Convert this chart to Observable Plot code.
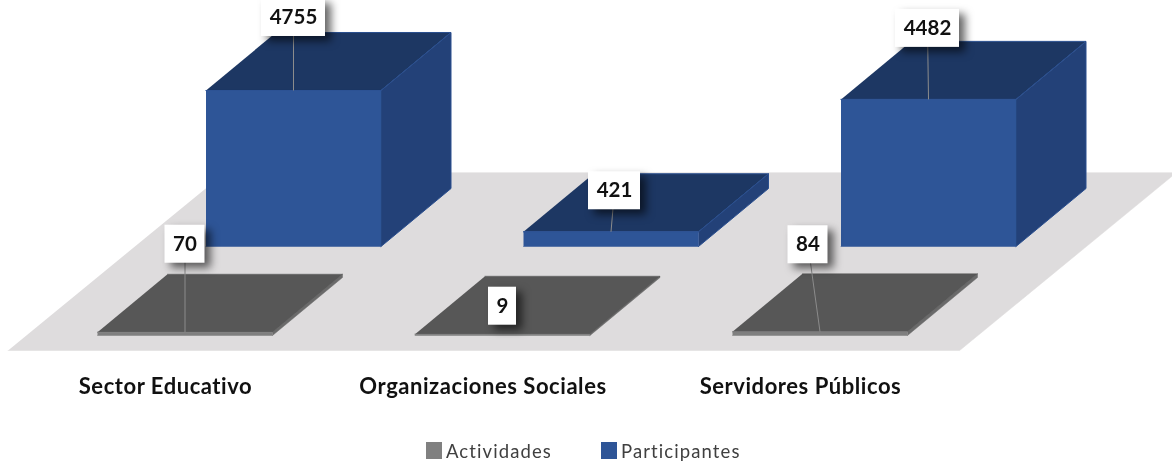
<!DOCTYPE html>
<html>
<head>
<meta charset="utf-8">
<style>
html,body{margin:0;padding:0;background:#fff;overflow:hidden}
#chart{width:1172px;height:465px;position:relative;filter:blur(.4px)}
#chart svg{display:block}
#legend{position:absolute;top:441px;left:0;width:1172px;height:22px;font:18.5px Lato,sans-serif;color:#404040;letter-spacing:1.1px}
#legend span{position:absolute;top:0;line-height:20px;white-space:nowrap}
#legend i{position:absolute;top:1px;width:16px;height:17px}
</style>
<script src="https://cdn.jsdelivr.net/npm/d3@7"></script>
<script src="https://cdn.jsdelivr.net/npm/@observablehq/plot@0.6"></script>
</head>
<body>
<div id="chart"></div>
<script>
// ---- data ----
const categories = ["Sector Educativo", "Organizaciones Sociales", "Servidores Públicos"];
const series = ["Actividades", "Participantes"];
const actividades = [70, 9, 84];
const participantes = [4755, 421, 4482];

// ---- layout of the oblique 3D scene (not data) ----
const W = 1172, H = 465;
const stepX = 317.5, originX = 97, originY = 335;
const rowDX = 108.5, rowDY = 89;          // shift between the two series rows
const barW = 175, depthX = 70, depthY = 58;
const pxPerUnit = 0.0326, minH = 1;
const project = (cat, row) => [originX + cat * stepX + row * rowDX, originY - row * rowDY];
const labelShift = {
  Actividades: [[0, -88], [0, -28], [-12, -87]],
  Participantes: [[0, -73], [3.5, -41], [-1, -71]]
};
const leaderShown = {Actividades: [true, false, true], Participantes: [true, true, true]};

const poly = (id, pts) => pts.map(([x, y]) => ({id, x, y}));
const floor = poly("floor", [
  project(-0.224, -0.1685), project(2.773, -0.1685), project(2.773, 1.83), project(-0.224, 1.83)
]);

function faces(values, row) {
  const front = [], right = [], top = [], labels = [];
  values.forEach((v, i) => {
    const [x0, y0] = project(i, row);
    const h = v * pxPerUnit + minH, x1 = x0 + barW, yt = y0 - h;
    const id = series[row] + i;
    front.push(...poly(id, [[x0, y0], [x1, y0], [x1, yt], [x0, yt]]));
    right.push(...poly(id, [[x1, y0], [x1 + depthX, y0 - depthY], [x1 + depthX, yt - depthY], [x1, yt]]));
    top.push(...poly(id, [[x0, yt], [x1, yt], [x1 + depthX, yt - depthY], [x0 + depthX, yt - depthY]]));
    const [sx, sy] = labelShift[series[row]][i];
    const ax = x0 + barW / 2, cx = ax + sx, cy = yt + sy;
    const text = String(v), bw = 16 + 12 * text.length;
    labels.push({text, ax, ay: yt, cx, cy, x1: cx - bw / 2, x2: cx + bw / 2, y1: cy - 19, y2: cy + 19, leader: leaderShown[series[row]][i]});
  });
  return {front, right, top, labels};
}
const grey = faces(actividades, 0), blue = faces(participantes, 1);
const labels = [...blue.labels, ...grey.labels];
const catLabels = categories.map((name, i) => ({name, x: project(i, 0)[0] + 68, y: 386}));

const solid = (data, fill, stroke) => Plot.line(data, {x: "x", y: "y", z: "id", fill, stroke: stroke || fill, strokeWidth: stroke ? 1 : 0.5});

const plot = Plot.plot({
  width: W, height: H,
  marginTop: 0, marginRight: 0, marginBottom: 0, marginLeft: 0,
  x: {domain: [0, W], range: [0, W], axis: null},
  y: {domain: [0, H], range: [0, H], axis: null},
  style: {background: "transparent", overflow: "hidden"},
  marks: [
    solid(floor, "#dedcdd"),
    solid(blue.top, "#1d3763", "#2a4f8f"),
    solid(blue.right, "#234178", "#2a4f8f"),
    solid(blue.front, "#2e5597"),
    solid(grey.right, "#6a6a6a"),
    solid(grey.top, "#575757"),
    solid(grey.front, "#7f7f7f"),
    Plot.link(labels.filter(d => d.leader), {x1: "cx", y1: "cy", x2: "ax", y2: "ay", stroke: "#8c8c8c", strokeWidth: 1, curve: "linear"}),
    Plot.rect(labels, {x1: "x1", x2: "x2", y1: "y1", y2: "y2", fill: "#fff",
      render: (index, scales, values, dimensions, context, next) => {
        const g = next(index, scales, values, dimensions, context);
        g.style.filter = "drop-shadow(6px 5px 4px rgba(0,0,0,.6))";
        return g;
      }}),
    Plot.text(labels, {x: "cx", y: "cy", text: "text", fill: "#111", fontFamily: "Lato", fontWeight: 700, fontSize: 20.5, textAnchor: "middle", lineAnchor: "middle"}),
    Plot.text(catLabels, {x: "x", y: "y", text: "name", fill: "#111", fontFamily: "Lato", fontWeight: 700, fontSize: 22, textAnchor: "middle", lineAnchor: "middle"})
  ]
});
plot.querySelectorAll("text").forEach(t => { if (categories.includes(t.textContent)) t.style.letterSpacing = "0.55px"; });
const chart = document.getElementById("chart");
chart.appendChild(plot);

const legend = document.createElement("div");
legend.id = "legend";
const legendX = [[426, 446], [601, 621]], legendColor = ["#808080", "#2e5597"];
series.forEach((s, i) => {
  const sw = document.createElement("i");
  sw.style.left = legendX[i][0] + "px";
  sw.style.background = legendColor[i];
  const t = document.createElement("span");
  t.style.left = legendX[i][1] + "px";
  t.textContent = s;
  legend.append(sw, t);
});
chart.appendChild(legend);
</script>
</body>
</html>
